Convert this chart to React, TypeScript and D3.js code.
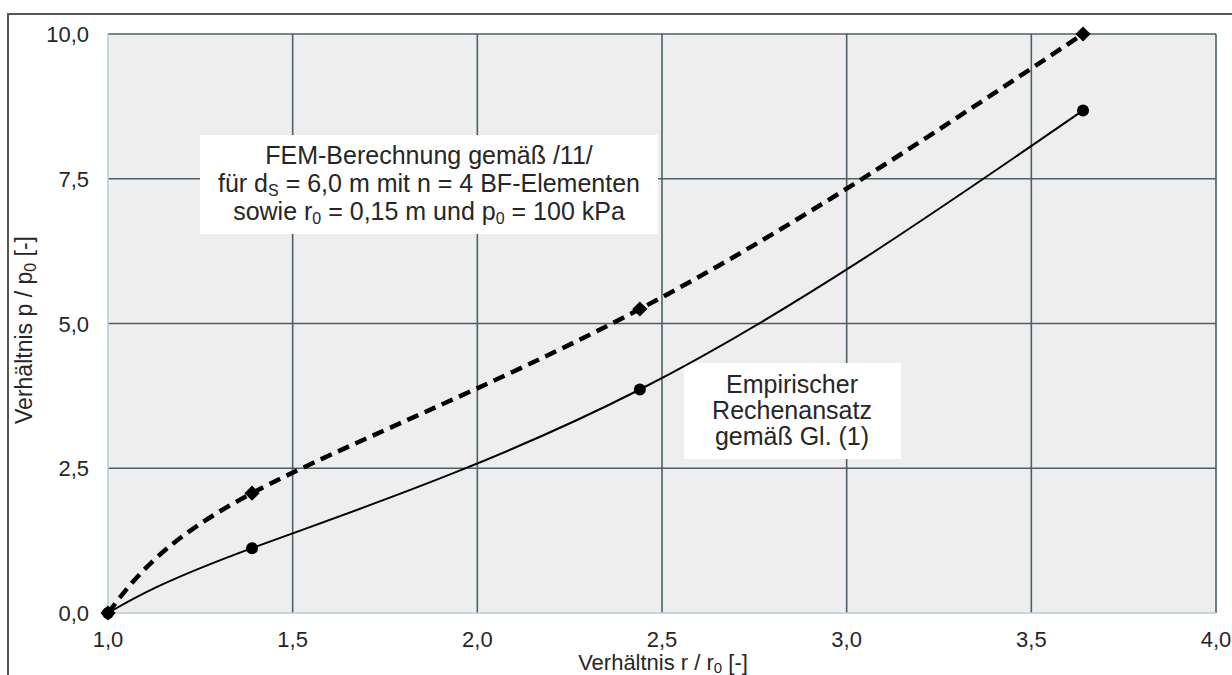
import { useEffect, useRef } from "react";
import * as d3 from "d3";

// Werte
const radiusRatio = [1.0, 1.39, 2.44, 3.64];
const femValues = [0.0, 2.07, 5.25, 10.0];
const empiricalValues = [0.0, 1.12, 3.86, 8.68];
const xTicks = [1.0, 1.5, 2.0, 2.5, 3.0, 3.5, 4.0];
const yTicks = [0.0, 2.5, 5.0, 7.5, 10.0];
const empiricalLabel = ["Empirischer", "Rechenansatz", "gemäß Gl. (1)"];

const W = 1232;
const H = 675;
const margin = { top: 34, right: 15, bottom: 62, left: 108 };
const FONT = "'Liberation Sans', Arial, sans-serif";
const TEXT = "#262626";

const fmt = (v: number) => v.toFixed(1).replace(".", ",");

const App = () => {
  const svgRef = useRef<SVGSVGElement>(null);

  useEffect(() => {
    const svg = d3.select(svgRef.current);
    svg.selectAll("*").remove();

    const x = d3.scaleLinear().domain([1, 4]).range([margin.left, W - margin.right - 1]);
    const y = d3.scaleLinear().domain([0, 10]).range([H - margin.bottom, margin.top]);

    // outer frame
    svg
      .append("rect")
      .attr("x", 8)
      .attr("y", 14)
      .attr("width", W)
      .attr("height", H)
      .attr("fill", "white")
      .attr("stroke", "#555")
      .attr("stroke-width", 2);

    // plot background
    svg
      .append("rect")
      .attr("x", x(1))
      .attr("y", y(10))
      .attr("width", x(4) - x(1))
      .attr("height", y(0) - y(10))
      .attr("fill", "#eeeeee");

    // grid
    const grid = svg.append("g").attr("stroke", "#4d6068").attr("stroke-width", 1.6);
    grid
      .selectAll("line.v")
      .data(xTicks.slice(1))
      .enter()
      .append("line")
      .attr("x1", (d) => x(d))
      .attr("x2", (d) => x(d))
      .attr("y1", y(0))
      .attr("y2", y(10));
    grid
      .selectAll("line.h")
      .data(yTicks.slice(1))
      .enter()
      .append("line")
      .attr("x1", x(1))
      .attr("x2", x(4))
      .attr("y1", (d) => y(d))
      .attr("y2", (d) => y(d));

    // left and bottom axis lines (light)
    svg
      .append("line")
      .attr("x1", x(1))
      .attr("x2", x(1))
      .attr("y1", y(0))
      .attr("y2", y(10))
      .attr("stroke", "#b9cbd6")
      .attr("stroke-width", 1.5);
    svg
      .append("line")
      .attr("x1", x(1))
      .attr("x2", x(4))
      .attr("y1", y(0))
      .attr("y2", y(0))
      .attr("stroke", "#b9cbd6")
      .attr("stroke-width", 1.5);

    // annotation boxes (cover grid)
    svg.append("rect").attr("x", 200).attr("y", 135).attr("width", 458).attr("height", 99).attr("fill", "white");
    svg.append("rect").attr("x", 684).attr("y", 363).attr("width", 217).attr("height", 96).attr("fill", "white");

    const femPts = radiusRatio.map((r, i) => [r, femValues[i]] as [number, number]);
    const empPts = radiusRatio.map((r, i) => [r, empiricalValues[i]] as [number, number]);
    const line = d3
      .line<[number, number]>()
      .x((d) => x(d[0]))
      .y((d) => y(d[1]))
      .curve(d3.curveNatural);

    // FEM (dashed)
    svg
      .append("path")
      .attr("d", line(femPts))
      .attr("fill", "none")
      .attr("stroke", "#000")
      .attr("stroke-width", 4.5)
      .attr("stroke-dasharray", "12,7");

    // empirisch (solid)
    svg
      .append("path")
      .attr("d", line(empPts))
      .attr("fill", "none")
      .attr("stroke", "#000")
      .attr("stroke-width", 2);

    const diamond = d3.symbol().type(d3.symbolSquare).size(115);
    svg
      .append("g")
      .selectAll("path")
      .data(femPts)
      .enter()
      .append("path")
      .attr("d", diamond())
      .attr("transform", (d) => `translate(${x(d[0])},${y(d[1])}) rotate(45)`)
      .attr("fill", "#000");

    svg
      .append("g")
      .selectAll("circle")
      .data(empPts)
      .enter()
      .append("circle")
      .attr("cx", (d) => x(d[0]))
      .attr("cy", (d) => y(d[1]))
      .attr("r", 6)
      .attr("fill", "#000");

    // tick labels
    svg
      .append("g")
      .selectAll("text")
      .data(yTicks)
      .enter()
      .append("text")
      .attr("x", 89)
      .attr("y", (d) => y(d) + 8)
      .attr("text-anchor", "end")
      .style("font", `22px ${FONT}`)
      .attr("fill", TEXT)
      .text(fmt);

    svg
      .append("g")
      .selectAll("text")
      .data(xTicks)
      .enter()
      .append("text")
      .attr("x", (d) => x(d))
      .attr("y", 647)
      .attr("text-anchor", "middle")
      .style("font", `22px ${FONT}`)
      .attr("fill", TEXT)
      .text(fmt);

    // axis titles
    const xt = svg
      .append("text")
      .attr("x", 663)
      .attr("y", 670)
      .attr("text-anchor", "middle")
      .style("font", `22px ${FONT}`)
      .attr("fill", TEXT);
    xt.append("tspan").text("Verhältnis r / r");
    xt.append("tspan").attr("dy", 3).style("font-size", "15px").text("0");
    xt.append("tspan").attr("dy", -3).text(" [-]");

    const yt = svg
      .append("text")
      .attr("transform", "translate(32,330) rotate(-90)")
      .attr("text-anchor", "middle")
      .style("font", `23px ${FONT}`)
      .attr("fill", TEXT);
    yt.append("tspan").text("Verhältnis p / p");
    yt.append("tspan").attr("dy", 4).style("font-size", "16px").text("0");
    yt.append("tspan").attr("dy", -4).text(" [-]");

    // annotation text 1
    const a1 = svg
      .append("text")
      .attr("text-anchor", "middle")
      .style("font", `25px ${FONT}`)
      .attr("fill", TEXT);
    a1.append("tspan").attr("x", 429).attr("y", 164).text("FEM-Berechnung gemäß /11/");
    const l2 = a1.append("tspan").attr("x", 429).attr("y", 192);
    l2.append("tspan").text("für d");
    l2.append("tspan").attr("dy", 4).style("font-size", "16px").text("S");
    l2.append("tspan").attr("dy", -4).text(" = 6,0 m mit n = 4 BF-Elementen");
    const l3 = a1.append("tspan").attr("x", 429).attr("y", 220);
    l3.append("tspan").text("sowie r");
    l3.append("tspan").attr("dy", 4).style("font-size", "16px").text("0");
    l3.append("tspan").attr("dy", -4).text(" = 0,15 m und p");
    l3.append("tspan").attr("dy", 4).style("font-size", "16px").text("0");
    l3.append("tspan").attr("dy", -4).text(" = 100 kPa");

    // annotation text 2
    const a2 = svg
      .append("text")
      .attr("text-anchor", "middle")
      .style("font", `25px ${FONT}`)
      .attr("fill", TEXT);
    empiricalLabel.forEach((t, i) => {
      a2.append("tspan").attr("x", 792).attr("y", 393 + i * 26).text(t);
    });
  }, []);

  return (
    <svg
      ref={svgRef}
      width={W}
      height={H}
      style={{ position: "absolute", left: 0, top: 0, background: "white" }}
    />
  );
};

export default App;
